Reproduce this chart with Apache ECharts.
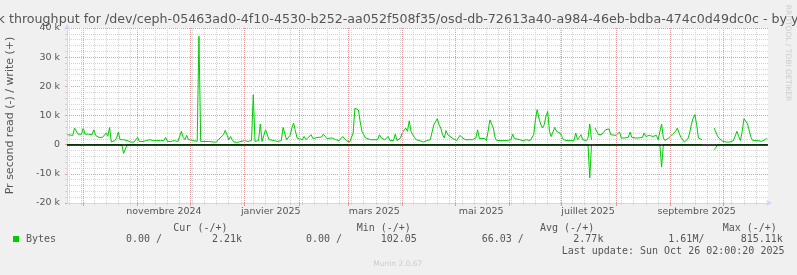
<!DOCTYPE html>
<html>
<head>
<meta charset="utf-8">
<script src="https://cdn.jsdelivr.net/npm/echarts@6.0.0/dist/echarts.min.js"></script>
<style>
html,body{margin:0;padding:0;background:#f0f0f0;}
#chart{width:797px;height:275px;}
</style>
</head>
<body>
<div id="chart"></div>
<script>
// ---------------- data ----------------
const titleText = 'Disk throughput for /dev/ceph-05463ad0-4f10-4530-b252-aa052f508f35/osd-db-72613a40-a984-46eb-bdba-474c0d49dc0c - by year';
const yAxisTitle = 'Pr second read (-) / write (+)';
const seriesName = 'Bytes';

// write (+) samples
const writeDates = [
  '2024-09-22','2024-09-23','2024-09-25','2024-09-26','2024-09-28','2024-09-29','2024-09-30',
  '2024-10-01','2024-10-02','2024-10-04','2024-10-05','2024-10-06','2024-10-07','2024-10-08','2024-10-09','2024-10-10','2024-10-11','2024-10-12','2024-10-13','2024-10-14','2024-10-15','2024-10-16','2024-10-17','2024-10-18','2024-10-19','2024-10-20','2024-10-21','2024-10-22','2024-10-23','2024-10-24','2024-10-25','2024-10-26','2024-10-28','2024-10-30','2024-10-31',
  '2024-11-01','2024-11-02','2024-11-04','2024-11-06','2024-11-08','2024-11-10','2024-11-12','2024-11-14','2024-11-16','2024-11-17','2024-11-18','2024-11-20','2024-11-22','2024-11-24','2024-11-25','2024-11-26','2024-11-27','2024-11-28','2024-11-29','2024-11-30',
  '2024-12-01','2024-12-03','2024-12-05','2024-12-06','2024-12-07','2024-12-08','2024-12-10','2024-12-12','2024-12-14','2024-12-16','2024-12-17','2024-12-18','2024-12-20','2024-12-21','2024-12-22','2024-12-23','2024-12-24','2024-12-25','2024-12-26','2024-12-28','2024-12-30',
  '2025-01-01','2025-01-02','2025-01-03','2025-01-05','2025-01-06','2025-01-07','2025-01-09','2025-01-10','2025-01-11','2025-01-12','2025-01-13','2025-01-14','2025-01-15','2025-01-16','2025-01-18','2025-01-20','2025-01-22','2025-01-23','2025-01-24','2025-01-25','2025-01-26','2025-01-27','2025-01-28','2025-01-29','2025-01-30','2025-01-31',
  '2025-02-01','2025-02-03','2025-02-04','2025-02-05','2025-02-06','2025-02-08','2025-02-09','2025-02-10','2025-02-12','2025-02-14','2025-02-15','2025-02-17','2025-02-18','2025-02-20','2025-02-22','2025-02-24','2025-02-25','2025-02-26','2025-02-27','2025-02-28',
  '2025-03-02','2025-03-03','2025-03-04','2025-03-05','2025-03-06','2025-03-07','2025-03-08','2025-03-09','2025-03-10','2025-03-11','2025-03-12','2025-03-14','2025-03-16','2025-03-18','2025-03-19','2025-03-20','2025-03-22','2025-03-24','2025-03-25','2025-03-27','2025-03-28','2025-03-29','2025-03-31',
  '2025-04-01','2025-04-02','2025-04-03','2025-04-04','2025-04-05','2025-04-06','2025-04-07','2025-04-08','2025-04-09','2025-04-11','2025-04-13','2025-04-14','2025-04-15','2025-04-17','2025-04-18','2025-04-19','2025-04-20','2025-04-21','2025-04-22','2025-04-23','2025-04-24','2025-04-25','2025-04-26','2025-04-27','2025-04-28','2025-04-30',
  '2025-05-02','2025-05-03','2025-05-04','2025-05-05','2025-05-06','2025-05-07','2025-05-08','2025-05-09','2025-05-10','2025-05-11','2025-05-12','2025-05-13','2025-05-14','2025-05-15','2025-05-16','2025-05-18','2025-05-19','2025-05-20','2025-05-21','2025-05-22','2025-05-23','2025-05-24','2025-05-25','2025-05-26','2025-05-28','2025-05-31',
  '2025-06-02','2025-06-03','2025-06-04','2025-06-05','2025-06-07','2025-06-09','2025-06-11','2025-06-13','2025-06-14','2025-06-15','2025-06-16','2025-06-17','2025-06-18','2025-06-19','2025-06-20','2025-06-21','2025-06-22','2025-06-23','2025-06-24','2025-06-25','2025-06-26','2025-06-27','2025-06-28','2025-06-29','2025-06-30',
  '2025-07-01','2025-07-02','2025-07-04','2025-07-06','2025-07-08','2025-07-09','2025-07-10','2025-07-11','2025-07-12','2025-07-13','2025-07-14','2025-07-15','2025-07-16','2025-07-17','2025-07-18','2025-07-19','2025-07-20','2025-07-21','2025-07-22','2025-07-23','2025-07-24','2025-07-25','2025-07-26','2025-07-27','2025-07-28','2025-07-29','2025-07-30',
  '2025-08-01','2025-08-02','2025-08-03','2025-08-04','2025-08-05','2025-08-06','2025-08-07','2025-08-08','2025-08-09','2025-08-10','2025-08-12','2025-08-14','2025-08-16','2025-08-17','2025-08-18','2025-08-19','2025-08-20','2025-08-21','2025-08-22','2025-08-23','2025-08-24','2025-08-25','2025-08-26','2025-08-27','2025-08-28','2025-08-29','2025-08-30','2025-08-31',
  '2025-09-01','2025-09-02','2025-09-03','2025-09-04','2025-09-05','2025-09-06','2025-09-07','2025-09-08','2025-09-09','2025-09-10','2025-09-11','2025-09-12','2025-09-13','2025-09-14','2025-09-15','2025-09-16','2025-09-17','2025-09-18','2025-09-19','2025-09-20','2025-09-26','2025-09-27','2025-09-28','2025-09-29','2025-09-30',
  '2025-10-01','2025-10-02','2025-10-03','2025-10-04','2025-10-05','2025-10-06','2025-10-07','2025-10-08','2025-10-09','2025-10-10','2025-10-11','2025-10-12','2025-10-13','2025-10-14','2025-10-15','2025-10-16','2025-10-17','2025-10-18','2025-10-19','2025-10-21','2025-10-23','2025-10-25','2025-10-26'
];
const writeValues = [
  3400,2800,3200,5700,3600,3700,3600,
  5700,3600,3600,4000,3400,5100,3200,2800,2500,2800,2500,2800,4000,2900,5900,900,900,1400,2300,4300,1700,1700,1700,1400,1400,900,900,900,
  2500,1100,1100,1400,1700,1400,1400,1400,1400,2500,1100,1100,1400,1100,1100,4600,2500,1700,3200,1700,
  1400,1400,1100,37200,1100,900,1100,1100,900,900,1700,2300,3400,4900,3400,1700,2800,1700,900,800,1100,
  1400,1700,1100,1400,17100,1100,1400,7100,1100,1700,5100,4800,1700,1100,1400,1100,1400,5900,5700,1700,1400,3200,5700,7400,4800,2300,
  1700,1700,2800,1700,1900,3400,2100,2300,2500,2600,3600,2100,2100,2300,1700,1400,1700,2800,2300,1400,
  900,1100,4000,12500,12300,11900,7900,4600,4000,2300,2000,1700,1700,1700,3400,2300,1700,2800,1400,1400,3600,1400,2300,
  4000,3600,5700,4600,8200,4600,3400,2500,1700,1400,900,1100,1400,1700,2100,6800,7100,8900,6800,5700,3400,2300,4800,3400,2800,2100,
  1400,1400,3200,2500,2300,1700,1400,1700,1400,1700,1700,2300,5100,2100,2100,2100,1400,4600,8500,9100,5700,2300,1400,1400,1400,1400,
  1700,3600,2100,1700,1700,1400,1700,1400,1700,3400,8500,12000,9100,7100,5700,6800,9700,11400,4600,2800,3000,5900,4600,4000,4000,
  4000,1700,1400,1400,1400,4000,1700,1700,3400,1700,1700,1400,2300,7100,1700,null,5700,5500,3400,3400,3600,3600,5100,5400,5400,3400,3200,
  3200,2900,4300,2300,2500,2300,2500,2500,4300,2500,2300,2300,2500,4000,2800,2300,3200,3400,2800,3400,3200,1700,1700,7100,2300,1400,1700,2300,
  2500,3400,4000,4600,5700,4000,2500,1700,900,1400,2000,4000,7000,9100,10300,6800,2300,1700,1700,null,5700,6300,2800,2100,2500,
  1100,1400,900,1100,900,1100,1400,1700,4600,2800,1400,4600,8900,8500,7100,6600,2500,1400,1100,1400,1100,1700,2300
];

// read (-) samples (zero elsewhere)
const readDates = [
  '2024-09-22','2024-10-23','2024-10-24','2024-10-25','2024-10-26',
  '2025-07-16','2025-07-17','2025-07-18','2025-07-19','2025-07-20',
  '2025-08-26','2025-08-27','2025-08-28',
  '2025-09-19','2025-09-20','2025-09-26','2025-09-27','2025-09-28','2025-10-26'
];
const readValues = [
  0,0,-3000,-3400,0,
  0,-11400,0,null,0,
  0,-7700,0,
  0,null,-1700,-900,0,0
];

// axes
const xStart = '2024-09-21T17:00:00Z';
const xEnd = '2025-10-26T17:00:00Z';
const monthStarts = ['2024-10-01','2024-11-01','2024-12-01','2025-01-01','2025-02-01','2025-03-01','2025-04-01','2025-05-01','2025-06-01','2025-07-01','2025-08-01','2025-09-01','2025-10-01'];
const monthLabelDates = ['2024-11-16','2025-01-16','2025-03-16','2025-05-16','2025-07-16','2025-09-16'];
const monthLabels = ['novembre 2024','janvier 2025','mars 2025','mai 2025','juillet 2025','septembre 2025'];
const firstMonday = '2024-09-23';
const yMin = -20000, yMax = 40000, yStep = 10000;

// legend block
const legendHeaders = ['Cur (-/+)','Min (-/+)','Avg (-/+)','Max (-/+)'];
const legendRead = ['0.00 /','0.00 /','66.03 /','1.61M/'];
const legendWrite = ['2.21k','102.05','2.77k','815.11k'];
const lastUpdate = 'Last update: Sun Oct 26 02:00:20 2025';
const rrdCredit = 'RRDTOOL / TOBI OETIKER';
const muninVersion = 'Munin 2.0.67';

// ---------------- build ----------------
const DAY = 86400000;
const ts = s => Date.parse(s.length === 10 ? s + 'T00:00:00Z' : s);
const xMin = ts(xStart), xMax = ts(xEnd);
const weekTicks = [];
for (let t = ts(firstMonday); t <= xMax; t += 7 * DAY) weekTicks.push(t);
const monthTicks = monthStarts.map(ts);
const labelTicks = monthLabelDates.map(ts);

const writeData = writeDates.map((d, i) => [ts(d), writeValues[i]]);
const readData = readDates.map((d, i) => [ts(d), readValues[i]]);

const FONT = '"DejaVu Sans", sans-serif';
const MONO = '"DejaVu Sans Mono", monospace';
const TXT = '#555555';
const MINOR = '#d4d4d4';
const MAJOR = '#e39b9b';
const AXISC = '#cfd6f8';
const GREEN = '#00cc00';

const baseX = {
  type: 'value', gridIndex: 0, position: 'bottom', min: xMin, max: xMax, scale: true,
  axisLine: { show: false, onZero: false },
  axisLabel: { show: false },
  axisTick: { show: false },
  splitLine: { show: false }
};

const texts = [];
texts.push({ type: 'text', x: 398.5, y: 19.5, silent: true,
  style: { text: titleText, font: '12.65px ' + FONT, fill: TXT, align: 'center', verticalAlign: 'middle' } });
texts.push({ type: 'text', x: 788, y: 53, rotation: -Math.PI / 2, silent: true,
  style: { text: rrdCredit, font: '7.5px ' + FONT, fill: '#cccccc', align: 'center', verticalAlign: 'middle' } });
const headX = [173.3, 356.7, 540, 722.7];
const readX = [126, 306, 481.7, 668.3];
const writeX = [212, 380.7, 573.3, 740.7];
legendHeaders.forEach((h, i) => texts.push({ type: 'text', x: headX[i], y: 228, silent: true,
  style: { text: h, font: '10px ' + MONO, fill: TXT, align: 'left', verticalAlign: 'middle' } }));
legendRead.forEach((h, i) => texts.push({ type: 'text', x: readX[i], y: 239.7, silent: true,
  style: { text: h, font: '10px ' + MONO, fill: TXT, align: 'left', verticalAlign: 'middle' } }));
legendWrite.forEach((h, i) => texts.push({ type: 'text', x: writeX[i], y: 239.7, silent: true,
  style: { text: h, font: '10px ' + MONO, fill: TXT, align: 'left', verticalAlign: 'middle' } }));
texts.push({ type: 'text', x: 561.7, y: 251.4, silent: true,
  style: { text: lastUpdate, font: '10px ' + MONO, fill: TXT, align: 'left', verticalAlign: 'middle' } });
texts.push({ type: 'text', x: 373.3, y: 264.2, silent: true,
  style: { text: muninVersion, font: '7.5px ' + FONT, fill: '#cccccc', align: 'left', verticalAlign: 'middle' } });

const chart = echarts.init(document.getElementById('chart'), null, { renderer: 'canvas' });
chart.setOption({
  animation: false,
  backgroundColor: '#f0f0f0',
  grid: { left: 67, right: 29, top: 28, bottom: 72, show: true, backgroundColor: '#ffffff', borderWidth: 0,
    containLabel: false, outerBoundsMode: 'none' },
  legend: {
    show: true, data: [seriesName], left: 13, top: 234, padding: 0, itemGap: 0,
    icon: 'rect', itemWidth: 6, itemHeight: 6, selectedMode: false,
    textStyle: { fontFamily: MONO, fontSize: 10, color: TXT, padding: [0, 0, 0, 2] },
    itemStyle: { color: GREEN }
  },
  xAxis: [
    Object.assign({}, baseX, {
      axisTick: { show: true, customValues: weekTicks, length: 2, lineStyle: { color: MINOR } },
      splitLine: { show: true, lineStyle: { color: MINOR, type: [1, 1], width: 1 } }
    }),
    Object.assign({}, baseX, {
      axisTick: { show: true, customValues: monthTicks, length: 3, lineStyle: { color: MAJOR } }
    }),
    Object.assign({}, baseX, {
      axisLine: { show: true, onZero: false, lineStyle: { color: AXISC, width: 1 }, symbol: ['none', 'arrow'], symbolSize: [5, 6], symbolOffset: [0, 4] },
      axisLabel: { show: true, customValues: labelTicks, margin: 4, fontFamily: FONT, fontSize: 9.5, color: TXT,
        formatter: v => { const i = labelTicks.indexOf(v); return i >= 0 ? monthLabels[i] : ''; } },
      axisTick: { show: false }
    })
  ],
  yAxis: [{
    type: 'value', min: yMin, max: yMax, interval: yStep, position: 'left',
    name: yAxisTitle, nameLocation: 'middle', nameGap: 51,
    nameTextStyle: { fontFamily: FONT, fontSize: 11, color: TXT },
    axisLine: { show: true, onZero: false, lineStyle: { color: AXISC, width: 1 }, symbol: ['none', 'arrow'], symbolSize: [5, 6], symbolOffset: [0, 4] },
    axisTick: { show: true, length: 2, lineStyle: { color: MAJOR } },
    minorTick: { show: true, splitNumber: 5, length: 2, lineStyle: { color: MINOR } },
    axisLabel: { margin: 7, fontFamily: FONT, fontSize: 9.5, color: TXT,
      formatter: v => v === 0 ? '0' : (v / 1000) + ' k' },
    splitLine: { show: true, lineStyle: { color: MAJOR, type: [1, 1], width: 1 } },
    minorSplitLine: { show: true, lineStyle: { color: MINOR, type: [1, 1], width: 1 } }
  }],
  series: [
    {
      // month grid lines (major vertical grid)
      type: 'line', xAxisIndex: 0, yAxisIndex: 0, data: [], z: 1, silent: true,
      markLine: {
        silent: true, symbol: ['none', 'none'], label: { show: false }, animation: false,
        lineStyle: { color: MAJOR, width: 1, type: [1, 1] },
        emphasis: { disabled: true },
        data: monthTicks.map(t => ({ xAxis: t }))
      }
    },
    {
      name: seriesName, type: 'line', xAxisIndex: 0, yAxisIndex: 0, data: readData, z: 3,
      showSymbol: false, symbol: 'none', connectNulls: false, silent: true,
      lineStyle: { color: GREEN, width: 1 }, itemStyle: { color: GREEN }
    },
    {
      name: seriesName, type: 'line', xAxisIndex: 0, yAxisIndex: 0, data: writeData, z: 3,
      showSymbol: false, symbol: 'none', connectNulls: false, silent: true,
      lineStyle: { color: GREEN, width: 1 }, itemStyle: { color: GREEN },
      markLine: {
        silent: true, symbol: ['none', 'none'], label: { show: false },
        lineStyle: { color: '#000000', width: 1.5, type: 'solid' },
        data: [{ yAxis: 0 }]
      }
    }
  ],
  graphic: texts
});
</script>
</body>
</html>
